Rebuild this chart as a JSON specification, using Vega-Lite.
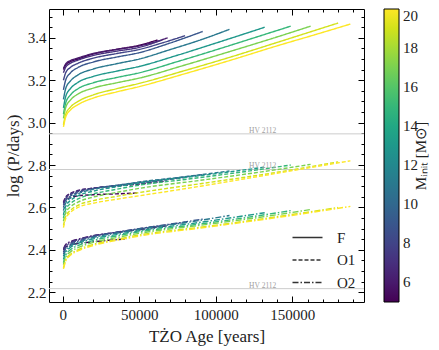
{
  "$schema": "https://vega.github.io/schema/vega-lite/v6.json",
  "width": 315,
  "height": 293,
  "autosize": {"type": "none"},
  "padding": {"left": 49, "top": 9, "right": 75, "bottom": 48},
  "background": "white",
  "config": {
    "view": {"stroke": "#000", "strokeWidth": 1},
    "font": "Liberation Serif",
    "axis": {"labelFont": "Liberation Serif", "titleFont": "Liberation Serif", "labelFontSize": 15, "titleFontSize": 17, "labelColor": "#222", "titleColor": "#222", "titleFontWeight": "normal", "domain": false, "grid": false, "tickColor": "#000", "tickWidth": 1, "labelOverlap": false},
    "legend": {"labelFont": "Liberation Serif", "titleFont": "Liberation Serif", "titleFontWeight": "normal", "labelColor": "#222", "titleColor": "#222"}
  },
  "datasets": {
    "hv": [
      {"label": "HV 2112", "age": 130700, "logP": 2.947},
      {"label": "HV 2112", "age": 130700, "logP": 2.779},
      {"label": "HV 2112", "age": 130700, "logP": 2.217}
    ],
    "tracks": [
      {"mode":"F","mass":5,"age":500,"logP":3.25},{"mode":"F","mass":5,"age":2000,"logP":3.2725},{"mode":"F","mass":5,"age":5000,"logP":3.2875},{"mode":"F","mass":5,"age":10000,"logP":3.30},{"mode":"F","mass":5,"age":20000,"logP":3.324},{"mode":"F","mass":5,"age":35000,"logP":3.3455},{"mode":"F","mass":5,"age":50000,"logP":3.365},{"mode":"F","mass":5,"age":62000,"logP":3.39},
      {"mode":"F","mass":6,"age":500,"logP":3.255},{"mode":"F","mass":6,"age":2000,"logP":3.2775},{"mode":"F","mass":6,"age":5000,"logP":3.2925},{"mode":"F","mass":6,"age":10000,"logP":3.305},{"mode":"F","mass":6,"age":20000,"logP":3.326},{"mode":"F","mass":6,"age":35000,"logP":3.345},{"mode":"F","mass":6,"age":50000,"logP":3.362},{"mode":"F","mass":6,"age":60000,"logP":3.38},{"mode":"F","mass":6,"age":68600,"logP":3.40},
      {"mode":"F","mass":7,"age":500,"logP":3.235},{"mode":"F","mass":7,"age":2000,"logP":3.262},{"mode":"F","mass":7,"age":5000,"logP":3.28},{"mode":"F","mass":7,"age":10000,"logP":3.295},{"mode":"F","mass":7,"age":20000,"logP":3.317},{"mode":"F","mass":7,"age":35000,"logP":3.337},{"mode":"F","mass":7,"age":50000,"logP":3.355},{"mode":"F","mass":7,"age":65000,"logP":3.39},
      {"mode":"F","mass":8,"age":500,"logP":3.20},{"mode":"F","mass":8,"age":2000,"logP":3.236},{"mode":"F","mass":8,"age":5000,"logP":3.26},{"mode":"F","mass":8,"age":10000,"logP":3.28},{"mode":"F","mass":8,"age":20000,"logP":3.304},{"mode":"F","mass":8,"age":35000,"logP":3.3255},{"mode":"F","mass":8,"age":50000,"logP":3.345},{"mode":"F","mass":8,"age":65000,"logP":3.376},{"mode":"F","mass":8,"age":80000,"logP":3.41},
      {"mode":"F","mass":9,"age":500,"logP":3.155},{"mode":"F","mass":9,"age":2000,"logP":3.202},{"mode":"F","mass":9,"age":5000,"logP":3.234},{"mode":"F","mass":9,"age":10000,"logP":3.26},{"mode":"F","mass":9,"age":20000,"logP":3.286},{"mode":"F","mass":9,"age":35000,"logP":3.309},{"mode":"F","mass":9,"age":50000,"logP":3.33},{"mode":"F","mass":9,"age":70000,"logP":3.375},{"mode":"F","mass":9,"age":91500,"logP":3.43},
      {"mode":"F","mass":11,"age":500,"logP":3.11},{"mode":"F","mass":11,"age":2000,"logP":3.162},{"mode":"F","mass":11,"age":5000,"logP":3.196},{"mode":"F","mass":11,"age":10000,"logP":3.225},{"mode":"F","mass":11,"age":20000,"logP":3.253},{"mode":"F","mass":11,"age":35000,"logP":3.2775},{"mode":"F","mass":11,"age":50000,"logP":3.30},{"mode":"F","mass":11,"age":70000,"logP":3.344},{"mode":"F","mass":11,"age":90000,"logP":3.39},{"mode":"F","mass":11,"age":109000,"logP":3.44},
      {"mode":"F","mass":13,"age":500,"logP":3.07},{"mode":"F","mass":13,"age":2000,"logP":3.124},{"mode":"F","mass":13,"age":5000,"logP":3.16},{"mode":"F","mass":13,"age":10000,"logP":3.19},{"mode":"F","mass":13,"age":20000,"logP":3.218},{"mode":"F","mass":13,"age":35000,"logP":3.2425},{"mode":"F","mass":13,"age":50000,"logP":3.265},{"mode":"F","mass":13,"age":75000,"logP":3.318},{"mode":"F","mass":13,"age":100000,"logP":3.375},{"mode":"F","mass":13,"age":132000,"logP":3.45},
      {"mode":"F","mass":15,"age":500,"logP":3.04},{"mode":"F","mass":15,"age":2000,"logP":3.094},{"mode":"F","mass":15,"age":5000,"logP":3.13},{"mode":"F","mass":15,"age":10000,"logP":3.16},{"mode":"F","mass":15,"age":20000,"logP":3.188},{"mode":"F","mass":15,"age":35000,"logP":3.2125},{"mode":"F","mass":15,"age":50000,"logP":3.235},{"mode":"F","mass":15,"age":75000,"logP":3.288},{"mode":"F","mass":15,"age":100000,"logP":3.343},{"mode":"F","mass":15,"age":125000,"logP":3.40},{"mode":"F","mass":15,"age":149000,"logP":3.455},
      {"mode":"F","mass":17,"age":500,"logP":3.02},{"mode":"F","mass":17,"age":2000,"logP":3.072},{"mode":"F","mass":17,"age":5000,"logP":3.106},{"mode":"F","mass":17,"age":10000,"logP":3.135},{"mode":"F","mass":17,"age":20000,"logP":3.163},{"mode":"F","mass":17,"age":35000,"logP":3.1875},{"mode":"F","mass":17,"age":50000,"logP":3.21},{"mode":"F","mass":17,"age":80000,"logP":3.272},{"mode":"F","mass":17,"age":110000,"logP":3.337},{"mode":"F","mass":17,"age":140000,"logP":3.404},{"mode":"F","mass":17,"age":162000,"logP":3.455},
      {"mode":"F","mass":19,"age":500,"logP":2.99},{"mode":"F","mass":19,"age":2000,"logP":3.04},{"mode":"F","mass":19,"age":5000,"logP":3.0725},{"mode":"F","mass":19,"age":10000,"logP":3.10},{"mode":"F","mass":19,"age":20000,"logP":3.131},{"mode":"F","mass":19,"age":35000,"logP":3.1595},{"mode":"F","mass":19,"age":50000,"logP":3.185},{"mode":"F","mass":19,"age":80000,"logP":3.246},{"mode":"F","mass":19,"age":110000,"logP":3.31},{"mode":"F","mass":19,"age":140000,"logP":3.378},{"mode":"F","mass":19,"age":180000,"logP":3.47},
      {"mode":"F","mass":20,"age":500,"logP":2.98},{"mode":"F","mass":20,"age":2000,"logP":3.027},{"mode":"F","mass":20,"age":5000,"logP":3.059},{"mode":"F","mass":20,"age":10000,"logP":3.085},{"mode":"F","mass":20,"age":20000,"logP":3.116},{"mode":"F","mass":20,"age":35000,"logP":3.1445},{"mode":"F","mass":20,"age":50000,"logP":3.17},{"mode":"F","mass":20,"age":80000,"logP":3.231},{"mode":"F","mass":20,"age":110000,"logP":3.295},{"mode":"F","mass":20,"age":140000,"logP":3.362},{"mode":"F","mass":20,"age":165000,"logP":3.415},{"mode":"F","mass":20,"age":188000,"logP":3.465},

      {"mode":"O1","mass":5,"age":500,"logP":2.62},{"mode":"O1","mass":5,"age":2000,"logP":2.636},{"mode":"O1","mass":5,"age":5000,"logP":2.646},{"mode":"O1","mass":5,"age":10000,"logP":2.655},{"mode":"O1","mass":5,"age":20000,"logP":2.66},{"mode":"O1","mass":5,"age":35000,"logP":2.664},{"mode":"O1","mass":5,"age":49000,"logP":2.668},
      {"mode":"O1","mass":6,"age":500,"logP":2.625},{"mode":"O1","mass":6,"age":2000,"logP":2.65},{"mode":"O1","mass":6,"age":5000,"logP":2.666},{"mode":"O1","mass":6,"age":10000,"logP":2.68},{"mode":"O1","mass":6,"age":20000,"logP":2.691},{"mode":"O1","mass":6,"age":35000,"logP":2.701},{"mode":"O1","mass":6,"age":50000,"logP":2.71},{"mode":"O1","mass":6,"age":68000,"logP":2.725},
      {"mode":"O1","mass":7,"age":500,"logP":2.62},{"mode":"O1","mass":7,"age":2000,"logP":2.646},{"mode":"O1","mass":7,"age":5000,"logP":2.664},{"mode":"O1","mass":7,"age":10000,"logP":2.678},{"mode":"O1","mass":7,"age":20000,"logP":2.691},{"mode":"O1","mass":7,"age":35000,"logP":2.702},{"mode":"O1","mass":7,"age":50000,"logP":2.712},{"mode":"O1","mass":7,"age":65000,"logP":2.727},
      {"mode":"O1","mass":8,"age":500,"logP":2.612},{"mode":"O1","mass":8,"age":2000,"logP":2.64},{"mode":"O1","mass":8,"age":5000,"logP":2.659},{"mode":"O1","mass":8,"age":10000,"logP":2.675},{"mode":"O1","mass":8,"age":20000,"logP":2.69},{"mode":"O1","mass":8,"age":35000,"logP":2.703},{"mode":"O1","mass":8,"age":50000,"logP":2.715},{"mode":"O1","mass":8,"age":65000,"logP":2.728},{"mode":"O1","mass":8,"age":80000,"logP":2.742},
      {"mode":"O1","mass":9,"age":500,"logP":2.60},{"mode":"O1","mass":9,"age":2000,"logP":2.632},{"mode":"O1","mass":9,"age":5000,"logP":2.653},{"mode":"O1","mass":9,"age":10000,"logP":2.67},{"mode":"O1","mass":9,"age":20000,"logP":2.688},{"mode":"O1","mass":9,"age":35000,"logP":2.704},{"mode":"O1","mass":9,"age":50000,"logP":2.718},{"mode":"O1","mass":9,"age":70000,"logP":2.735},{"mode":"O1","mass":9,"age":91500,"logP":2.755},
      {"mode":"O1","mass":11,"age":500,"logP":2.585},{"mode":"O1","mass":11,"age":2000,"logP":2.621},{"mode":"O1","mass":11,"age":5000,"logP":2.645},{"mode":"O1","mass":11,"age":10000,"logP":2.665},{"mode":"O1","mass":11,"age":20000,"logP":2.685},{"mode":"O1","mass":11,"age":35000,"logP":2.7035},{"mode":"O1","mass":11,"age":50000,"logP":2.72},{"mode":"O1","mass":11,"age":80000,"logP":2.745},{"mode":"O1","mass":11,"age":109000,"logP":2.772},
      {"mode":"O1","mass":13,"age":500,"logP":2.565},{"mode":"O1","mass":13,"age":2000,"logP":2.6055},{"mode":"O1","mass":13,"age":5000,"logP":2.6325},{"mode":"O1","mass":13,"age":10000,"logP":2.655},{"mode":"O1","mass":13,"age":20000,"logP":2.677},{"mode":"O1","mass":13,"age":35000,"logP":2.697},{"mode":"O1","mass":13,"age":50000,"logP":2.715},{"mode":"O1","mass":13,"age":90000,"logP":2.75},{"mode":"O1","mass":13,"age":132000,"logP":2.79},
      {"mode":"O1","mass":15,"age":500,"logP":2.55},{"mode":"O1","mass":15,"age":2000,"logP":2.5905},{"mode":"O1","mass":15,"age":5000,"logP":2.6175},{"mode":"O1","mass":15,"age":10000,"logP":2.64},{"mode":"O1","mass":15,"age":20000,"logP":2.664},{"mode":"O1","mass":15,"age":35000,"logP":2.6855},{"mode":"O1","mass":15,"age":50000,"logP":2.705},{"mode":"O1","mass":15,"age":80000,"logP":2.732},{"mode":"O1","mass":15,"age":115000,"logP":2.765},{"mode":"O1","mass":15,"age":149000,"logP":2.80},
      {"mode":"O1","mass":17,"age":500,"logP":2.535},{"mode":"O1","mass":17,"age":2000,"logP":2.5755},{"mode":"O1","mass":17,"age":5000,"logP":2.6025},{"mode":"O1","mass":17,"age":10000,"logP":2.625},{"mode":"O1","mass":17,"age":20000,"logP":2.649},{"mode":"O1","mass":17,"age":35000,"logP":2.6705},{"mode":"O1","mass":17,"age":50000,"logP":2.69},{"mode":"O1","mass":17,"age":90000,"logP":2.728},{"mode":"O1","mass":17,"age":130000,"logP":2.768},{"mode":"O1","mass":17,"age":162000,"logP":2.803},
      {"mode":"O1","mass":19,"age":500,"logP":2.515},{"mode":"O1","mass":19,"age":2000,"logP":2.558},{"mode":"O1","mass":19,"age":5000,"logP":2.586},{"mode":"O1","mass":19,"age":10000,"logP":2.61},{"mode":"O1","mass":19,"age":20000,"logP":2.632},{"mode":"O1","mass":19,"age":35000,"logP":2.652},{"mode":"O1","mass":19,"age":50000,"logP":2.67},{"mode":"O1","mass":19,"age":90000,"logP":2.712},{"mode":"O1","mass":19,"age":135000,"logP":2.76},{"mode":"O1","mass":19,"age":180000,"logP":2.815},
      {"mode":"O1","mass":20,"age":500,"logP":2.505},{"mode":"O1","mass":20,"age":2000,"logP":2.548},{"mode":"O1","mass":20,"age":5000,"logP":2.576},{"mode":"O1","mass":20,"age":10000,"logP":2.60},{"mode":"O1","mass":20,"age":20000,"logP":2.62},{"mode":"O1","mass":20,"age":35000,"logP":2.6385},{"mode":"O1","mass":20,"age":50000,"logP":2.655},{"mode":"O1","mass":20,"age":90000,"logP":2.70},{"mode":"O1","mass":20,"age":140000,"logP":2.761},{"mode":"O1","mass":20,"age":188000,"logP":2.82},

      {"mode":"O2","mass":5,"age":500,"logP":2.40},{"mode":"O2","mass":5,"age":2000,"logP":2.4135},{"mode":"O2","mass":5,"age":5000,"logP":2.4225},{"mode":"O2","mass":5,"age":10000,"logP":2.43},{"mode":"O2","mass":5,"age":20000,"logP":2.438},{"mode":"O2","mass":5,"age":30000,"logP":2.445},{"mode":"O2","mass":5,"age":42000,"logP":2.452},
      {"mode":"O2","mass":6,"age":500,"logP":2.405},{"mode":"O2","mass":6,"age":2000,"logP":2.425},{"mode":"O2","mass":6,"age":5000,"logP":2.439},{"mode":"O2","mass":6,"age":10000,"logP":2.45},{"mode":"O2","mass":6,"age":20000,"logP":2.467},{"mode":"O2","mass":6,"age":35000,"logP":2.4815},{"mode":"O2","mass":6,"age":50000,"logP":2.495},{"mode":"O2","mass":6,"age":68000,"logP":2.513},
      {"mode":"O2","mass":7,"age":500,"logP":2.40},{"mode":"O2","mass":7,"age":2000,"logP":2.4215},{"mode":"O2","mass":7,"age":5000,"logP":2.436},{"mode":"O2","mass":7,"age":10000,"logP":2.448},{"mode":"O2","mass":7,"age":20000,"logP":2.466},{"mode":"O2","mass":7,"age":35000,"logP":2.482},{"mode":"O2","mass":7,"age":50000,"logP":2.497},{"mode":"O2","mass":7,"age":65000,"logP":2.514},
      {"mode":"O2","mass":8,"age":500,"logP":2.39},{"mode":"O2","mass":8,"age":2000,"logP":2.415},{"mode":"O2","mass":8,"age":5000,"logP":2.431},{"mode":"O2","mass":8,"age":10000,"logP":2.445},{"mode":"O2","mass":8,"age":20000,"logP":2.465},{"mode":"O2","mass":8,"age":35000,"logP":2.4835},{"mode":"O2","mass":8,"age":50000,"logP":2.50},{"mode":"O2","mass":8,"age":65000,"logP":2.515},{"mode":"O2","mass":8,"age":80000,"logP":2.53},
      {"mode":"O2","mass":9,"age":500,"logP":2.38},{"mode":"O2","mass":9,"age":2000,"logP":2.407},{"mode":"O2","mass":9,"age":5000,"logP":2.425},{"mode":"O2","mass":9,"age":10000,"logP":2.44},{"mode":"O2","mass":9,"age":20000,"logP":2.462},{"mode":"O2","mass":9,"age":35000,"logP":2.482},{"mode":"O2","mass":9,"age":50000,"logP":2.50},{"mode":"O2","mass":9,"age":70000,"logP":2.521},{"mode":"O2","mass":9,"age":91500,"logP":2.545},
      {"mode":"O2","mass":11,"age":500,"logP":2.37},{"mode":"O2","mass":11,"age":2000,"logP":2.399},{"mode":"O2","mass":11,"age":5000,"logP":2.419},{"mode":"O2","mass":11,"age":10000,"logP":2.435},{"mode":"O2","mass":11,"age":20000,"logP":2.458},{"mode":"O2","mass":11,"age":35000,"logP":2.4785},{"mode":"O2","mass":11,"age":50000,"logP":2.497},{"mode":"O2","mass":11,"age":80000,"logP":2.528},{"mode":"O2","mass":11,"age":109000,"logP":2.562},
      {"mode":"O2","mass":13,"age":500,"logP":2.355},{"mode":"O2","mass":13,"age":2000,"logP":2.389},{"mode":"O2","mass":13,"age":5000,"logP":2.411},{"mode":"O2","mass":13,"age":10000,"logP":2.43},{"mode":"O2","mass":13,"age":20000,"logP":2.452},{"mode":"O2","mass":13,"age":35000,"logP":2.472},{"mode":"O2","mass":13,"age":50000,"logP":2.49},{"mode":"O2","mass":13,"age":90000,"logP":2.53},{"mode":"O2","mass":13,"age":132000,"logP":2.575},
      {"mode":"O2","mass":15,"age":500,"logP":2.34},{"mode":"O2","mass":15,"age":2000,"logP":2.376},{"mode":"O2","mass":15,"age":5000,"logP":2.40},{"mode":"O2","mass":15,"age":10000,"logP":2.42},{"mode":"O2","mass":15,"age":20000,"logP":2.444},{"mode":"O2","mass":15,"age":35000,"logP":2.4655},{"mode":"O2","mass":15,"age":50000,"logP":2.485},{"mode":"O2","mass":15,"age":80000,"logP":2.513},{"mode":"O2","mass":15,"age":115000,"logP":2.547},{"mode":"O2","mass":15,"age":149000,"logP":2.585},
      {"mode":"O2","mass":17,"age":500,"logP":2.33},{"mode":"O2","mass":17,"age":2000,"logP":2.366},{"mode":"O2","mass":17,"age":5000,"logP":2.39},{"mode":"O2","mass":17,"age":10000,"logP":2.41},{"mode":"O2","mass":17,"age":20000,"logP":2.435},{"mode":"O2","mass":17,"age":35000,"logP":2.4575},{"mode":"O2","mass":17,"age":50000,"logP":2.478},{"mode":"O2","mass":17,"age":90000,"logP":2.516},{"mode":"O2","mass":17,"age":130000,"logP":2.555},{"mode":"O2","mass":17,"age":162000,"logP":2.59},
      {"mode":"O2","mass":19,"age":500,"logP":2.315},{"mode":"O2","mass":19,"age":2000,"logP":2.353},{"mode":"O2","mass":19,"age":5000,"logP":2.379},{"mode":"O2","mass":19,"age":10000,"logP":2.40},{"mode":"O2","mass":19,"age":20000,"logP":2.426},{"mode":"O2","mass":19,"age":35000,"logP":2.449},{"mode":"O2","mass":19,"age":50000,"logP":2.47},{"mode":"O2","mass":19,"age":90000,"logP":2.507},{"mode":"O2","mass":19,"age":135000,"logP":2.551},{"mode":"O2","mass":19,"age":180000,"logP":2.60},
      {"mode":"O2","mass":20,"age":500,"logP":2.31},{"mode":"O2","mass":20,"age":2000,"logP":2.348},{"mode":"O2","mass":20,"age":5000,"logP":2.374},{"mode":"O2","mass":20,"age":10000,"logP":2.395},{"mode":"O2","mass":20,"age":20000,"logP":2.421},{"mode":"O2","mass":20,"age":35000,"logP":2.4445},{"mode":"O2","mass":20,"age":50000,"logP":2.465},{"mode":"O2","mass":20,"age":90000,"logP":2.503},{"mode":"O2","mass":20,"age":140000,"logP":2.552},{"mode":"O2","mass":20,"age":188000,"logP":2.605}
    ]
  },
  "layer": [
    {
      "data": {"name": "hv"},
      "mark": {"type": "rule", "color": "#cccccc", "strokeWidth": 1},
      "encoding": {
        "y": {"field": "logP", "type": "quantitative", "axis": null}
      }
    },
    {
      "data": {"name": "tracks"},
      "mark": {"type": "line", "strokeWidth": 1.4, "interpolate": "monotone"},
      "encoding": {
        "x": {
          "field": "age", "type": "quantitative",
          "scale": {"domain": [-8950, 196900], "nice": false, "zero": false},
          "axis": {
            "orient": "bottom", "title": "TŻO Age [years]", "format": "d",
            "values": [0,10000,20000,30000,40000,50000,60000,70000,80000,90000,100000,110000,120000,130000,140000,150000,160000,170000,180000,190000],
            "labelExpr": "datum.value % 50000 == 0 ? datum.label : ''",
            "tickSize": {"condition": {"test": "datum.value % 50000 == 0", "value": -6}, "value": -3},
            "labelPadding": 11, "titlePadding": 3
          }
        },
        "y": {
          "field": "logP", "type": "quantitative",
          "scale": {"domain": [2.154, 3.536], "nice": false, "zero": false},
          "axis": {
            "orient": "left", "title": "log (P/days)", "format": ".1f",
            "values": [2.2,2.25,2.3,2.35,2.4,2.45,2.5,2.55,2.6,2.65,2.7,2.75,2.8,2.85,2.9,2.95,3.0,3.05,3.1,3.15,3.2,3.25,3.3,3.35,3.4,3.45,3.5],
            "labelExpr": "abs(datum.value * 5 - round(datum.value * 5)) < 0.001 ? datum.label : ''",
            "tickSize": {"condition": {"test": "abs(datum.value * 5 - round(datum.value * 5)) < 0.001", "value": -6}, "value": -3},
            "labelPadding": 9, "titlePadding": 5
          }
        },
        "color": {
          "field": "mass", "type": "quantitative",
          "scale": {"scheme": "viridis", "domain": [5, 20]},
          "legend": {
            "orient": "none", "legendX": 335, "legendY": 0, "direction": "vertical",
            "gradientLength": 293, "gradientThickness": 15,
            "gradientStrokeColor": "#000", "gradientStrokeWidth": 1,
            "values": [6, 8, 10, 12, 14, 16, 18, 20],
            "labelFontSize": 15, "labelOffset": 4,
            "title": null
          }
        },
        "strokeDash": {
          "field": "mode", "type": "nominal",
          "scale": {"domain": ["F", "O1", "O2"], "range": [[1, 0], [4, 2], [6, 2, 1.5, 2]]},
          "legend": {
            "orient": "none", "legendX": 251, "legendY": 221, "title": null,
            "symbolType": "M-3,0H3", "symbolSize": 100, "symbolStrokeColor": "#333", "symbolStrokeWidth": 1.5,
            "labelFontSize": 15, "labelOffset": 22, "rowPadding": 6.5
          }
        },
        "detail": {"field": "mass", "type": "nominal"}
      }
    },
    {
      "data": {"name": "hv"},
      "mark": {"type": "text", "fontSize": 7.5, "color": "#a0a0a0", "align": "center", "baseline": "alphabetic", "dy": -1, "font": "Liberation Serif"},
      "encoding": {
        "x": {
          "field": "age", "type": "quantitative",
          "axis": {
            "orient": "top", "title": null, "labels": false,
            "values": [0,10000,20000,30000,40000,50000,60000,70000,80000,90000,100000,110000,120000,130000,140000,150000,160000,170000,180000,190000],
            "tickSize": {"condition": {"test": "datum.value % 50000 == 0", "value": -6}, "value": -3}
          }
        },
        "y": {
          "field": "logP", "type": "quantitative",
          "axis": {
            "orient": "right", "labels": false,
            "title": "Mᵢₙᵢₜ [M⊙]", "titleAngle": 270, "titleFontSize": 15, "titlePadding": 64,
            "values": [2.2,2.25,2.3,2.35,2.4,2.45,2.5,2.55,2.6,2.65,2.7,2.75,2.8,2.85,2.9,2.95,3.0,3.05,3.1,3.15,3.2,3.25,3.3,3.35,3.4,3.45,3.5],
            "tickSize": {"condition": {"test": "abs(datum.value * 5 - round(datum.value * 5)) < 0.001", "value": -6}, "value": -3}
          }
        },
        "text": {"field": "label", "type": "nominal"}
      }
    }
  ],
  "resolve": {"axis": {"x": "independent", "y": "independent"}}
}
